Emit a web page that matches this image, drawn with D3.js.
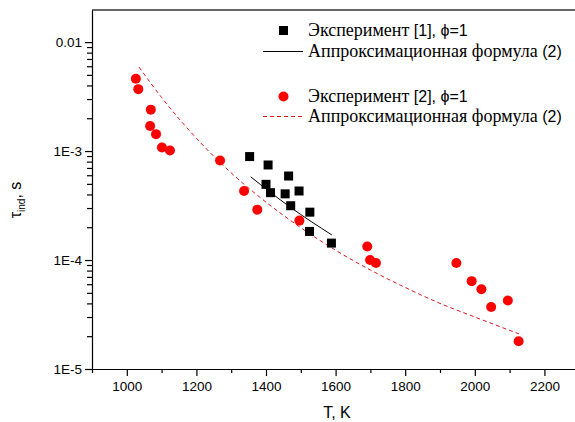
<body style="margin:0;background:#fff"></body>

<script src='https://d3js.org/d3.v7.min.js'></script>
<script>
    // experiment [1] (black squares)
    const exp1T   = [1353, 1406, 1465, 1400, 1413, 1455, 1495, 1471, 1526, 1525, 1588];
    const exp1Tau = [8.9e-4, 7.45e-4, 5.9e-4, 4.95e-4, 4.15e-4, 4.05e-4, 4.3e-4, 3.15e-4, 2.75e-4, 1.83e-4, 1.43e-4];
    // approximation (2) for [1]
    const fit1T   = [1356, 1470, 1589];
    const fit1Tau = [5.8e-4, 3.05e-4, 1.7e-4];
    // experiment [2] (red circles)
    const exp2T   = [1026, 1033, 1069, 1067, 1084, 1101, 1124, 1268, 1337, 1375, 1496, 1691, 1699, 1716, 1947, 1991, 2019, 2047, 2095, 2126];
    const exp2Tau = [4.6e-3, 3.7e-3, 2.4e-3, 1.7e-3, 1.43e-3, 1.08e-3, 1.01e-3, 8.2e-4, 4.3e-4, 2.9e-4, 2.3e-4, 1.33e-4, 1.0e-4, 9.4e-5, 9.4e-5, 6.4e-5, 5.4e-5, 3.7e-5, 4.25e-5, 1.8e-5];
    // approximation (2) for [2]
    const fit2T   = [1035, 1100, 1200, 1300, 1400, 1500, 1600, 1700, 1800, 1900, 2000, 2127];
    const fit2Tau = [5.9e-3, 3.1e-3, 1.31e-3, 6.3e-4, 3.4e-4, 1.98e-4, 1.23e-4, 8.1e-5, 5.6e-5, 4.0e-5, 3.0e-5, 2.1e-5];

    const xMajor = [1000, 1200, 1400, 1600, 1800, 2000, 2200];
    const xMinor = [900, 1100, 1300, 1500, 1700, 1900, 2100];
    const yMajor = [1e-5, 1e-4, 1e-3, 1e-2];
    const yLabels = ["1E-5", "1E-4", "1E-3", "0.01"];

    const width = 575, height = 422;
    const mLeft = 92, mTop = 10, mBottom = 369;
    const serif = "Liberation Serif, DejaVu Serif, serif";
    const sans = "Liberation Sans, Arial, sans-serif";

    var x = d3.scaleLinear().domain([900, 2300]).range([mLeft, mLeft + 0.348 * 1400]);
    var y = d3.scaleLog().domain([1e-5, 0.0197]).range([mBottom, mTop]);

    var svg = d3.select("body").append("svg")
        .attr("width", width)
        .attr("height", height);

    // frame top
    svg.append("line")
        .attr("x1", mLeft).attr("x2", width)
        .attr("y1", mTop).attr("y2", mTop)
        .attr("stroke", "#333").attr("stroke-width", 1.6);

    // minor ticks
    var yMinor = [];
    yMajor.forEach(function (d) {
        for (var k = 2; k <= 9; k++) if (d * k < 0.0197) yMinor.push(d * k);
    });
    svg.append("g")
        .attr("transform", "translate(" + mLeft + ",0)")
        .call(d3.axisLeft(y).tickValues(yMinor).tickSize(5).tickFormat(""))
        .call(g => g.select(".domain").remove());
    svg.append("g")
        .attr("transform", "translate(0," + mBottom + ")")
        .call(d3.axisBottom(x).tickValues(xMinor).tickSize(4).tickFormat(""))
        .call(g => g.select(".domain").remove());

    // major axes
    svg.append("g")
        .attr("transform", "translate(" + mLeft + ",0)")
        .call(d3.axisLeft(y).tickValues(yMajor).tickSize(7).tickSizeOuter(0).tickPadding(3)
            .tickFormat(function (d, i) { return yLabels[i]; }));
    svg.append("g")
        .attr("transform", "translate(0," + mBottom + ")")
        .call(d3.axisBottom(x).tickValues(xMajor).tickSize(7).tickSizeOuter(0).tickPadding(5)
            .tickFormat(d3.format("d")));
    svg.selectAll(".tick text").attr("font-size", 13.5).attr("fill", "#000")
        .attr("font-family", sans);
    svg.selectAll(".domain, .tick line").attr("stroke", "#000").attr("stroke-width", 1.2);

    // axis titles
    svg.append("text")
        .attr("x", 337).attr("y", 418)
        .attr("text-anchor", "middle")
        .attr("font-family", sans)
        .attr("font-size", 16)
        .text("T, K");

    var yt = svg.append("text")
        .attr("transform", "translate(21,200) rotate(-90)")
        .attr("text-anchor", "middle")
        .attr("font-family", sans)
        .attr("font-size", 16);
    yt.append("tspan").text("τ");
    yt.append("tspan").attr("font-size", 10).attr("dy", 4).text("ind");
    yt.append("tspan").attr("dy", -4).text(", s");

    // fit lines
    var line = d3.line().curve(d3.curveMonotoneX)
        .x(function (d) { return x(d[0]); })
        .y(function (d) { return y(d[1]); });

    svg.append("path")
        .datum(fit2T.map((t, i) => [t, fit2Tau[i]]))
        .attr("d", line)
        .attr("fill", "none")
        .attr("stroke", "#e01820")
        .attr("stroke-width", 1)
        .attr("stroke-dasharray", "4,3");

    svg.append("path")
        .datum(fit1T.map((t, i) => [t, fit1Tau[i]]))
        .attr("d", line)
        .attr("fill", "none")
        .attr("stroke", "#000")
        .attr("stroke-width", 1);

    // points
    svg.selectAll("rect.e1")
        .data(exp1T.map((t, i) => [t, exp1Tau[i]]))
        .enter().append("rect")
        .attr("class", "e1")
        .attr("x", d => x(d[0]) - 4.5)
        .attr("y", d => y(d[1]) - 4.5)
        .attr("width", 9).attr("height", 9)
        .attr("fill", "#000");

    svg.selectAll("circle.e2")
        .data(exp2T.map((t, i) => [t, exp2Tau[i]]))
        .enter().append("circle")
        .attr("class", "e2")
        .attr("cx", d => x(d[0]))
        .attr("cy", d => y(d[1]))
        .attr("r", 5)
        .attr("fill", "#ff0000");

    // legend
    var lg = svg.append("g");
    lg.append("rect").attr("x", 279).attr("y", 26).attr("width", 9).attr("height", 9).attr("fill", "#000");
    lg.append("line").attr("x1", 263).attr("x2", 303).attr("y1", 51.5).attr("y2", 51.5)
        .attr("stroke", "#000").attr("stroke-width", 1);
    lg.append("circle").attr("cx", 283.5).attr("cy", 96.5).attr("r", 5).attr("fill", "#ff0000");
    lg.append("line").attr("x1", 263).attr("x2", 303).attr("y1", 116.5).attr("y2", 116.5)
        .attr("stroke", "#e01820").attr("stroke-width", 1).attr("stroke-dasharray", "4,3");

    function legendText(yy, word, tail) {
        var t = lg.append("text").attr("x", 308).attr("y", yy);
        t.append("tspan").attr("font-family", serif).attr("font-size", 18).text(word);
        t.append("tspan").attr("font-family", sans).attr("font-size", 16).text(tail);
    }
    legendText(36, "Эксперимент ", "[1], ϕ=1");
    legendText(57, "Аппроксимационная формула ", "(2)");
    legendText(102, "Эксперимент ", "[2], ϕ=1");
    legendText(122, "Аппроксимационная формула ", "(2)");
</script>
